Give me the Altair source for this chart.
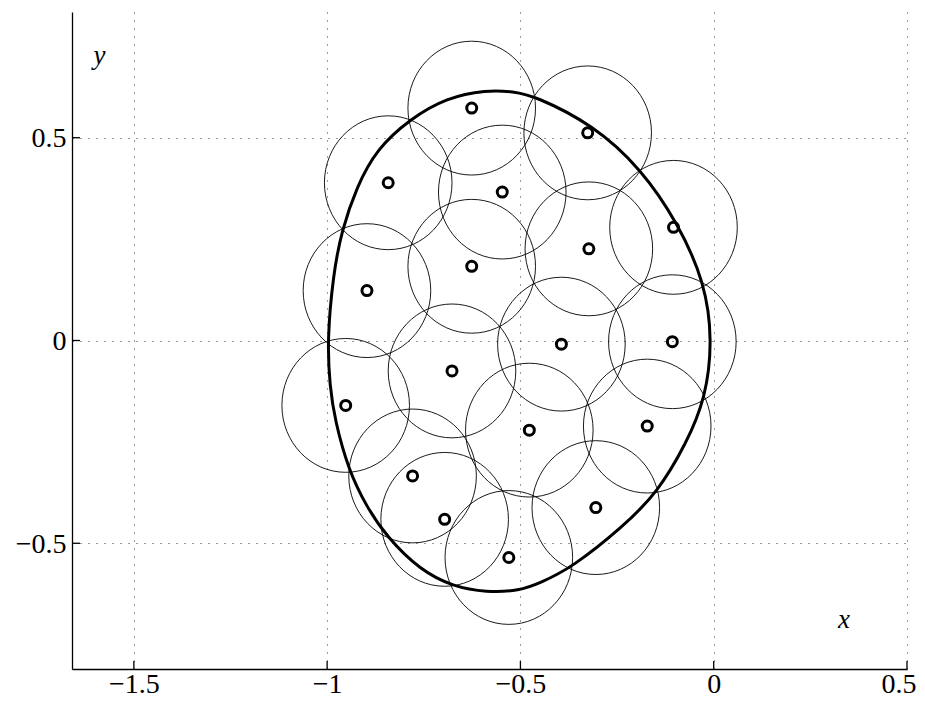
import altair as alt
import pandas as pd

# ---- data ----
x_ticks = [-1.5, -1.0, -0.5, 0.0, 0.5]
y_ticks = [-0.5, 0.0, 0.5]

center_x = [-0.626, -0.326, -0.842, -0.547, -0.104, -0.323, -0.626, -0.897, -0.394,
            -0.107, -0.677, -0.952, -0.477, -0.172, -0.779, -0.305, -0.696, -0.530]
center_y = [0.573, 0.512, 0.389, 0.366, 0.279, 0.226, 0.183, 0.123, -0.009,
            -0.003, -0.075, -0.160, -0.221, -0.211, -0.334, -0.412, -0.441, -0.535]
circle_radius = 0.165

# boundary curve: upper half (left to right) and lower half (left to right)
upper_x = [-1.0, -0.984, -0.9625, -0.924, -0.872, -0.786, -0.691, -0.588, -0.518,
           -0.463, -0.312, -0.187, -0.092, -0.023, -0.003]
upper_y = [0.0, 0.165, 0.271, 0.378, 0.472, 0.546, 0.599, 0.618, 0.614,
           0.603, 0.532, 0.423, 0.288, 0.144, 0.0]
lower_x = [-1.0, -0.993, -0.980, -0.945, -0.898, -0.846, -0.760, -0.674, -0.588,
           -0.502, -0.450, -0.368, -0.234, -0.144, -0.071, -0.021, -0.003]
lower_y = [0.0, -0.114, -0.196, -0.319, -0.410, -0.484, -0.566, -0.607, -0.621,
           -0.617, -0.598, -0.561, -0.459, -0.373, -0.254, -0.143, 0.0]

x_domain = [-1.66, 0.5]
y_domain = [-0.81, 0.81]

# ---- layout ----
W, H = 835, 657
px_x = W / (x_domain[1] - x_domain[0])
px_y = H / (y_domain[1] - y_domain[0])
ry_px = circle_radius * px_y
rx_px = circle_radius * px_x
circle_size = (2 * ry_px) ** 2
a = rx_px / ry_px
ellipse_path = f"M {-a:.4f},0 A {a:.4f},1 0 1,1 {a:.4f},0 A {a:.4f},1 0 1,1 {-a:.4f},0 Z"

centers = pd.DataFrame({"x": center_x, "y": center_y})

# closed loop: upper half left->right, then lower half right->left (no repeated ends)
loop_x = upper_x + lower_x[::-1][1:-1]
loop_y = upper_y + lower_y[::-1][1:-1]
curve = pd.DataFrame({"x": loop_x, "y": loop_y, "k": list(range(len(loop_x)))})

xt = pd.DataFrame({"x": x_ticks})
yt = pd.DataFrame({"y": y_ticks})

FONT = "Liberation Serif"
xs = alt.Scale(domain=x_domain, nice=False, zero=False)
ys = alt.Scale(domain=y_domain, nice=False, zero=False)

common_axis = dict(
    format="~g", grid=True, gridDash=[1, 7], gridColor="#333333", gridWidth=1,
    ticks=False, tickSize=0, domainColor="black", domainWidth=1.3,
    labelFont=FONT, labelFontSize=28, labelColor="black",
    titleFont=FONT, titleFontStyle="italic", titleFontWeight="normal",
    titleFontSize=27, titleColor="black", titleAngle=0,
    titleAlign="center", titleBaseline="alphabetic",
)

x_axis = alt.Axis(values=x_ticks, labelPadding=1, labelFlush=1, labelFlushOffset=9,
                  title="x", titleX=771.5, titleY=-42, **common_axis)
y_axis = alt.Axis(values=y_ticks, labelPadding=6, labelOffset=1, title="y",
                  titleX=27, titleY=51, **common_axis)

X = alt.X("x:Q", scale=xs, axis=x_axis)
Y = alt.Y("y:Q", scale=ys, axis=y_axis)

circles = alt.Chart(centers).mark_point(
    shape=ellipse_path, filled=False, color="black", strokeWidth=0.9,
    size=circle_size, opacity=1,
).encode(x=X, y=Y)

boundary = alt.Chart(curve).mark_line(
    color="black", strokeWidth=3, interpolate="basis-closed",
).encode(x=X, y=Y, order="k:Q")

markers = alt.Chart(centers).mark_point(
    shape="circle", filled=False, color="black", strokeWidth=3, size=100, opacity=1,
).encode(x=X, y=Y)

xtick_rules = alt.Chart(xt).mark_rule(color="black", strokeWidth=1.3).encode(
    x=X,
    y=alt.value(H),
    y2=alt.value(H - 8),
)

ytick_rules = alt.Chart(yt).mark_rule(color="black", strokeWidth=1.3).encode(
    y=Y,
    x=alt.value(0),
    x2=alt.value(8),
)

chart = alt.layer(circles, boundary, markers, xtick_rules, ytick_rules).properties(
    width=W, height=H,
    autosize=alt.AutoSizeParams(type="none"),
    padding={"left": 64, "top": 4, "right": 10, "bottom": 25},
    background="white",
).configure_view(stroke=None)

chart.save("out.html", embed_options={"renderer": "svg", "actions": False})
